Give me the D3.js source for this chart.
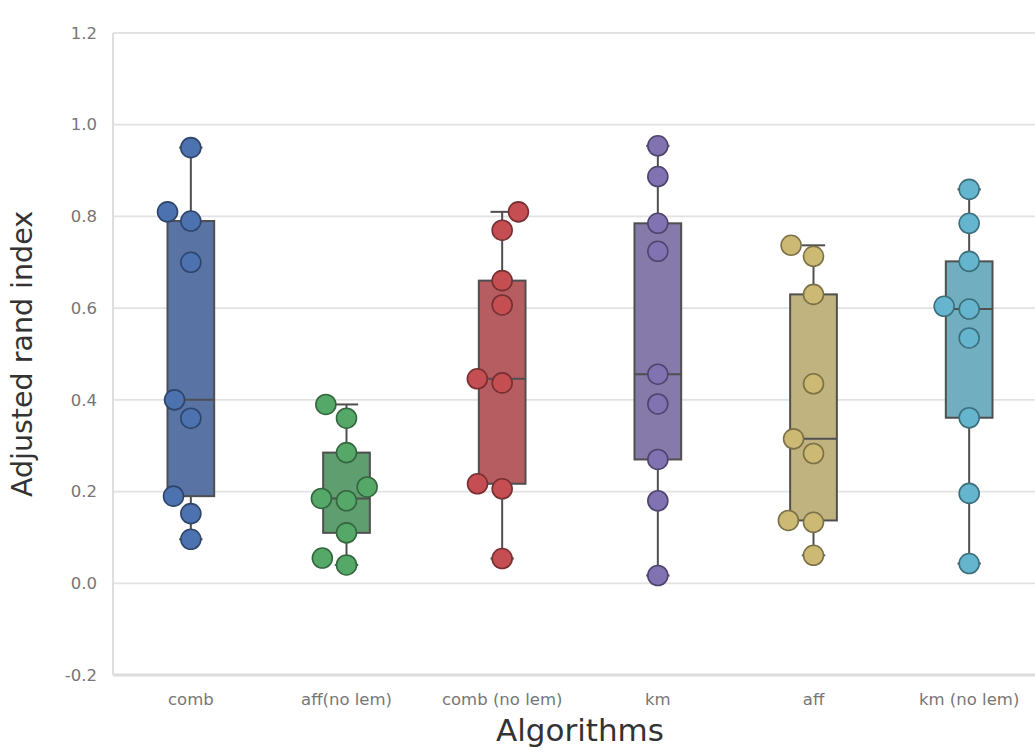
<!DOCTYPE html>
<html><head><meta charset="utf-8">
<script src="https://cdn.jsdelivr.net/npm/d3@7"></script>
<style>
body{margin:0;background:#fff;}
svg{display:block;font-family:"DejaVu Sans",sans-serif;}
</style>
</head><body>
<svg id="chart" width="1035" height="755"></svg>
<script>
// ---- data ----
const categories = ["comb", "aff(no lem)", "comb (no lem)", "km", "aff", "km (no lem)"];
const combValues      = [0.95, 0.81, 0.79, 0.70, 0.40, 0.36, 0.19, 0.152, 0.096];
const affNoLemValues  = [0.39, 0.36, 0.285, 0.21, 0.185, 0.18, 0.11, 0.055, 0.04];
const combNoLemValues = [0.81, 0.77, 0.66, 0.607, 0.446, 0.437, 0.217, 0.206, 0.054];
const kmValues        = [0.954, 0.887, 0.785, 0.724, 0.456, 0.391, 0.27, 0.18, 0.017];
const affValues       = [0.737, 0.713, 0.63, 0.435, 0.315, 0.283, 0.137, 0.133, 0.061];
const kmNoLemValues   = [0.859, 0.785, 0.702, 0.604, 0.598, 0.535, 0.361, 0.196, 0.043];
const seriesValues = [combValues, affNoLemValues, combNoLemValues, kmValues, affValues, kmNoLemValues];
const yTicks = [-0.2, 0.0, 0.2, 0.4, 0.6, 0.8, 1.0, 1.2];
const xLabel = "Algorithms";
const yLabel = "Adjusted rand index";

// ---- style / layout ----
const palette = ["#4C72B0", "#55A868", "#C44E52", "#8172B2", "#CCB974", "#64B5CD"];
const boxFill = ["#5873A4", "#5F9E6E", "#B55D60", "#857AAA", "#C1B37F", "#71AEC0"];
const lineGray = "#4f4f4f";
// swarm tie-break: points that settled on the right side when both sides were equally close
const swarmTieRight = {"comb (no lem)": [0.81]};

const margin = {left: 113, top: 33, plotRight: 1047, bottom: 675};
const svg = d3.select("#chart");

const x = d3.scaleBand().domain(categories).range([margin.left, margin.plotRight]).padding(0);
const y = d3.scaleLinear().domain([-0.2, 1.2]).range([margin.bottom, margin.top]);

// grid
svg.append("g").selectAll("line").data(yTicks).join("line")
  .attr("x1", margin.left).attr("x2", margin.plotRight)
  .attr("y1", d => y(d)).attr("y2", d => y(d))
  .attr("stroke", "#e2e2e2").attr("stroke-width", 1.8);
// spines (light)
svg.append("line").attr("x1", margin.left).attr("x2", margin.left)
  .attr("y1", y(1.2)).attr("y2", y(-0.2)).attr("stroke", "#dedede").attr("stroke-width", 2);
svg.append("line").attr("x1", margin.left).attr("x2", margin.plotRight)
  .attr("y1", y(-0.2)).attr("y2", y(-0.2)).attr("stroke", "#dcdcdc").attr("stroke-width", 3);

// axes
const fmt = v => d3.format(".1f")(v).replace("\u2212", "-");
const yAxis = svg.append("g").attr("transform", `translate(${margin.left},0)`)
  .call(d3.axisLeft(y).tickValues(yTicks).tickSize(0).tickPadding(16).tickFormat(fmt));
const xAxis = svg.append("g").attr("transform", `translate(0,${margin.bottom})`)
  .call(d3.axisBottom(x).tickSize(0).tickPadding(18));
[yAxis, xAxis].forEach(g => {
  g.select(".domain").remove();
  g.selectAll("text").attr("fill", "#767676").style("font-size", "16.5px")
    .style("font-family", "'DejaVu Sans', sans-serif");
});

// labels
svg.append("text").attr("x", (margin.left + margin.plotRight) / 2).attr("y", 741)
  .attr("text-anchor", "middle").attr("fill", "#333").style("font-size", "31px").text(xLabel);
svg.append("text").attr("transform", `translate(32,${(margin.top + margin.bottom) / 2}) rotate(-90)`)
  .attr("text-anchor", "middle").attr("fill", "#333").style("font-size", "28.5px").text(yLabel);

// ---- boxes ----
const boxW = x.bandwidth() * 0.3;
categories.forEach((cat, i) => {
  const vals = seriesValues[i].slice().sort(d3.ascending);
  const q1 = d3.quantile(vals, 0.25), med = d3.quantile(vals, 0.5), q3 = d3.quantile(vals, 0.75);
  const iqr = q3 - q1;
  const lo = d3.min(vals.filter(v => v >= q1 - 1.5 * iqr));
  const hi = d3.max(vals.filter(v => v <= q3 + 1.5 * iqr));
  const cx = x(cat) + x.bandwidth() / 2;
  const g = svg.append("g");
  g.append("line").attr("x1", cx).attr("x2", cx).attr("y1", y(q3)).attr("y2", y(hi))
    .attr("stroke", lineGray).attr("stroke-width", 2);
  g.append("line").attr("x1", cx).attr("x2", cx).attr("y1", y(q1)).attr("y2", y(lo))
    .attr("stroke", lineGray).attr("stroke-width", 2);
  [lo, hi].forEach(v => g.append("line").attr("x1", cx - boxW / 4).attr("x2", cx + boxW / 4)
    .attr("y1", y(v)).attr("y2", y(v)).attr("stroke", lineGray).attr("stroke-width", 2));
  g.append("rect").attr("x", cx - boxW / 2).attr("width", boxW)
    .attr("y", y(q3)).attr("height", y(q1) - y(q3))
    .attr("fill", boxFill[i]).attr("stroke", lineGray).attr("stroke-width", 2);
  g.append("line").attr("x1", cx - boxW / 2).attr("x2", cx + boxW / 2)
    .attr("y1", y(med)).attr("y2", y(med)).attr("stroke", lineGray).attr("stroke-width", 2);
});

// ---- swarm ----
const R = 10, D = 24;
function beeswarm(vals, rightSet) {
  const ys = vals.map(v => y(v));
  const order = d3.range(vals.length).sort((a, b) => vals[a] - vals[b]);
  const placed = [];
  const xs = new Array(vals.length);
  for (const i of order) {
    const yi = ys[i];
    const neigh = placed.filter(p => Math.abs(p.y - yi) < D);
    const cands = [{c: 0, k: 0}];
    let k = 1;
    neigh.forEach(p => {
      const dx = Math.sqrt(Math.max(D * D - (yi - p.y) ** 2, 0)) * 1.05;
      cands.push({c: p.x - dx, k: k++}, {c: p.x + dx, k: k++});
    });
    const preferRight = rightSet.includes(vals[i]);
    cands.sort((a, b) => {
      const da = Math.abs(a.c), db = Math.abs(b.c);
      if (Math.abs(da - db) > 1e-6) return da - db;
      if (preferRight) return b.c - a.c;
      return a.k - b.k;
    });
    let chosen = cands[cands.length - 1].c;
    for (const cd of cands) {
      if (neigh.every(p => Math.hypot(cd.c - p.x, yi - p.y) >= D - 1e-6)) { chosen = cd.c; break; }
    }
    xs[i] = chosen;
    placed.push({x: chosen, y: yi});
  }
  return xs;
}

categories.forEach((cat, i) => {
  const vals = seriesValues[i];
  const offs = beeswarm(vals, swarmTieRight[cat] || []);
  const cx = x(cat) + x.bandwidth() / 2;
  const edge = d3.color(palette[i]).darker(1.4).formatHex();
  svg.append("g").selectAll("circle").data(vals).join("circle")
    .attr("cx", (d, j) => cx + offs[j]).attr("cy", d => y(d)).attr("r", R)
    .attr("fill", palette[i]).attr("stroke", edge).attr("stroke-width", 1.6);
});
</script>
</body></html>
